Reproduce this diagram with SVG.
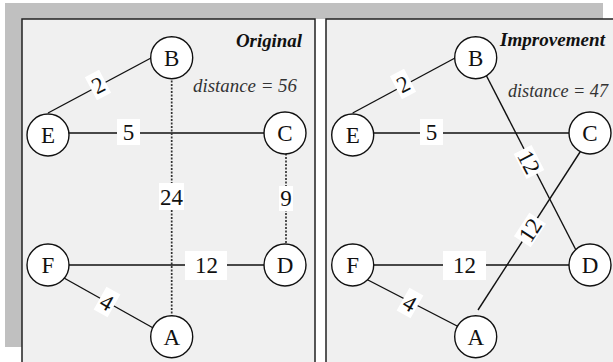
<svg xmlns="http://www.w3.org/2000/svg" width="613" height="362" viewBox="0 0 613 362">
<style>
.bg{fill:#c0c0c0}
.panel{fill:#f0f0f0;stroke:#222;stroke-width:1.5}
.edge{stroke:#111;stroke-width:1.4;fill:none}
.dot{stroke:#333;stroke-width:1.7;stroke-dasharray:2 1.5;fill:none}
.node circle{fill:#fff;stroke:#111;stroke-width:1.4}
.lbl rect{fill:#fff}
.serif{font-family:'Liberation Serif','Times New Roman',serif}
</style>
<rect width="613" height="362" fill="#fff"/>
<rect class="bg" x="5" y="3" width="598" height="16"/>
<rect class="bg" x="5" y="3" width="17" height="344"/>
<rect class="panel" x="22" y="19" width="293" height="350"/>
<rect class="panel" x="326" y="19" width="300" height="350"/>

<g id="connectors">
  <line class="edge" x1="48" y1="113" x2="151" y2="58"/>
  <line class="edge" x1="48" y1="133" x2="285" y2="133"/>
  <line class="dot" x1="171.7" y1="70" x2="171.7" y2="320"/>
  <line class="dot" x1="286" y1="150" x2="286" y2="250"/>
  <line class="edge" x1="48" y1="265" x2="285" y2="265"/>
  <line class="edge" x1="64" y1="278" x2="155" y2="329"/>
  <line class="edge" x1="352.7" y1="113" x2="455" y2="58"/>
  <line class="edge" x1="352.7" y1="133" x2="590" y2="133"/>
  <line class="edge" x1="484" y1="71" x2="578" y2="254"/>
  <line class="edge" x1="582" y1="149" x2="478" y2="310"/>
  <line class="edge" x1="352.7" y1="265" x2="590" y2="265"/>
  <line class="edge" x1="366" y1="279" x2="459" y2="327"/>

  <g class="lbl serif" font-size="23" text-anchor="middle" fill="#111">
    <g transform="translate(98,85) rotate(-27.7)"><rect x="-8" y="-13" width="16" height="26"/><text y="8">2</text></g>
    <rect x="117" y="119" width="23" height="26"/><text x="128.5" y="140">5</text>
    <rect x="159" y="183" width="25" height="27"/><text x="171.5" y="204.5">24</text>
    <rect x="279" y="186" width="14" height="25"/><text x="286" y="205.5">9</text>
    <rect x="185" y="251" width="42" height="29"/><text x="206.5" y="273">12</text>
    <g transform="translate(107,302) rotate(29.5)"><rect x="-8" y="-13" width="16" height="26"/><text y="8">4</text></g>

    <g transform="translate(403,84) rotate(-27.7)"><rect x="-8" y="-13" width="16" height="26"/><text y="8">2</text></g>
    <rect x="420" y="119" width="23" height="26"/><text x="431.5" y="140">5</text>
    <g transform="translate(529,162) rotate(62.8)"><rect x="-14" y="-10" width="28" height="20"/><text y="8">12</text></g>
    <g transform="translate(530,230) rotate(-56.8)"><rect x="-14" y="-10" width="28" height="20"/><text y="8">12</text></g>
    <rect x="443" y="251" width="43" height="29"/><text x="464.5" y="273">12</text>
    <g transform="translate(410,303) rotate(29.5)"><rect x="-8" y="-13" width="16" height="26"/><text y="8">4</text></g>
  </g>
</g>

<g class="serif" font-size="23" text-anchor="middle" fill="#111">
<g id="orig-B" class="node"><circle cx="171.7" cy="57.7" r="21"/><text x="171.7" y="65.7">B</text></g>
<g id="orig-E" class="node"><circle cx="48" cy="135" r="21"/><text x="48" y="143">E</text></g>
<g id="orig-C" class="node"><circle cx="285" cy="133" r="21"/><text x="285" y="141">C</text></g>
<g id="orig-F" class="node"><circle cx="48" cy="265" r="21"/><text x="48" y="273">F</text></g>
<g id="orig-D" class="node"><circle cx="285" cy="265" r="21"/><text x="285" y="273">D</text></g>
<g id="orig-A" class="node"><circle cx="171.7" cy="336.7" r="21"/><text x="171.7" y="344.7">A</text></g>

<g id="imp-B" class="node"><circle cx="475.7" cy="57.7" r="21"/><text x="475.7" y="65.7">B</text></g>
<g id="imp-E" class="node"><circle cx="352.7" cy="135" r="21"/><text x="352.7" y="143">E</text></g>
<g id="imp-C" class="node"><circle cx="590" cy="133" r="21"/><text x="590" y="141">C</text></g>
<g id="imp-F" class="node"><circle cx="352.7" cy="265" r="21"/><text x="352.7" y="273">F</text></g>
<g id="imp-D" class="node"><circle cx="590" cy="265" r="21"/><text x="590" y="273">D</text></g>
<g id="imp-A" class="node"><circle cx="475.7" cy="336.7" r="21"/><text x="475.7" y="344.7">A</text></g>
</g>

<g class="serif" font-size="19" font-style="italic">
<text font-weight="bold" fill="#111" x="236" y="47" textLength="66" lengthAdjust="spacingAndGlyphs">Original</text>
<text fill="#333" x="193" y="92" textLength="104" lengthAdjust="spacingAndGlyphs">distance = 56</text>
<text font-weight="bold" fill="#111" x="500" y="46" textLength="105" lengthAdjust="spacingAndGlyphs">Improvement</text>
<text fill="#333" x="508" y="97" textLength="100" lengthAdjust="spacingAndGlyphs">distance = 47</text>
</g>
</svg>
